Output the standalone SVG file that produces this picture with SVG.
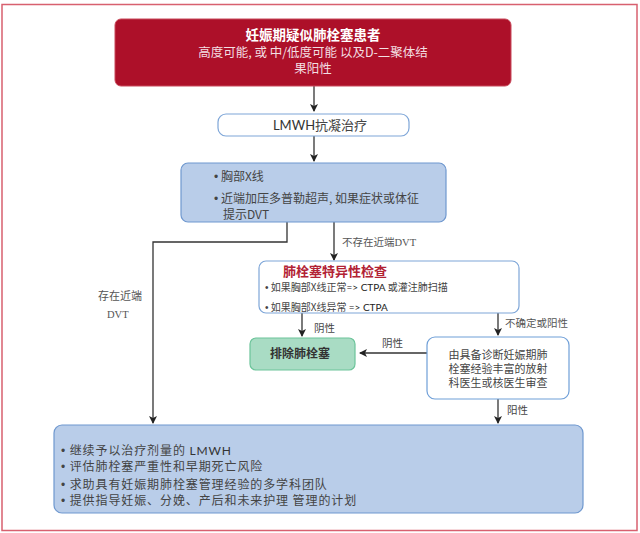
<svg xmlns="http://www.w3.org/2000/svg" width="640" height="533" viewBox="0 0 640 533">
<defs>
<marker id="ah" markerWidth="8" markerHeight="8" refX="7" refY="4" orient="auto" markerUnits="userSpaceOnUse">
<path d="M0,0 L8,4 L0,8 L2,4 Z" fill="#222"/>
</marker>
</defs>
<style>
.t{font-family:"Noto Sans CJK SC","Noto Sans",sans-serif;fill:#444}
.s{font-family:"Liberation Serif","Noto Sans CJK SC",serif;fill:#555}
.b{font-family:"Liberation Sans",sans-serif}
.c{stroke:#333;stroke-width:1.3;fill:none}
.lbl{font-size:10.5px}
.bt{font-size:12px;letter-spacing:0.9px}
</style>
<rect x="2" y="4.5" width="635" height="526" fill="#fff" stroke="#d8606f" stroke-width="1.5"/>
<g id="connectors">
<path class="c" d="M314,86 V111" marker-end="url(#ah)"/>
<path class="c" d="M314,136 V161" marker-end="url(#ah)"/>
<path class="c" d="M334,222 V260" marker-end="url(#ah)"/>
<path class="c" d="M287,222 V242 H153 V423" marker-end="url(#ah)"/>
<path class="c" d="M302,313 V336" marker-end="url(#ah)"/>
<path class="c" d="M498,313 V335" marker-end="url(#ah)"/>
<path class="c" d="M427,353 H360" stroke="#777" marker-end="url(#ah)"/>
<path class="c" d="M498,399 V423" marker-end="url(#ah)"/>
<text class="s lbl" x="342" y="246">不存在近端DVT</text>
<text class="s" x="98" y="300" font-size="11">存在近端</text>
<text class="s lbl" x="107" y="318">DVT</text>
<text class="t lbl" x="314" y="332" fill="#666">阴性</text>
<text class="t lbl" x="382" y="347" fill="#666">阴性</text>
<text class="s lbl" x="505" y="327">不确定或阳性</text>
<text class="t lbl" x="507" y="414" fill="#666">阳性</text>
</g>
<g id="start">
<rect x="115" y="19" width="396" height="67" rx="6" fill="#ad1029" stroke="#c8485a" stroke-width="1"/>
<text class="t" x="313" y="40" font-size="13.5" font-weight="bold" text-anchor="middle" style="fill:#fff">妊娠期疑似肺栓塞患者</text>
<text class="t" x="313" y="56.5" font-size="12.5" text-anchor="middle" style="fill:#f3dfe2">高度可能, 或 中/低度可能 以及D-二聚体结</text>
<text class="t" x="313" y="72.5" font-size="12.5" text-anchor="middle" style="fill:#f3dfe2">果阳性</text>
</g>
<g id="lmwh">
<rect x="218" y="114" width="191" height="22" rx="8" fill="#fff" stroke="#7ea6d8" stroke-width="1.2"/>
<text class="t" x="320" y="130" font-size="13" text-anchor="middle"><tspan font-family="Lato,sans-serif" style="fill:#333">LMWH</tspan>抗凝治疗</text>
</g>
<g id="tests">
<rect x="181" y="163" width="265" height="59" rx="7" fill="#b9cde9" stroke="#6f98cf" stroke-width="1.2"/>
<text class="t" x="214" y="181" font-size="12"><tspan class="b">•</tspan> 胸部X线</text>
<text class="t" x="214" y="203" font-size="12"><tspan class="b">•</tspan> 近端加压多普勒超声, 如果症状或体征</text>
<text class="t" x="223" y="219" font-size="12">提示DVT</text>
</g>
<g id="specific">
<rect x="259" y="261" width="260" height="52" rx="7" fill="#fff" stroke="#7ea6d8" stroke-width="1.2"/>
<text class="t" x="283" y="276" font-size="13" font-weight="bold" style="fill:#b22234">肺栓塞特异性检查</text>
<text class="t" x="265" y="291" font-size="10"><tspan class="b">•</tspan> 如果胸部X线正常<tspan font-family="Lato,sans-serif" style="fill:#222">=&gt; CTPA</tspan> 或灌注肺扫描</text>
<text class="t" x="265" y="311" font-size="10"><tspan class="b">•</tspan> 如果胸部X线异常 <tspan font-family="Lato,sans-serif" style="fill:#222">=&gt; CTPA</tspan></text>
</g>
<g id="excluded">
<rect x="250" y="338" width="105" height="32" rx="6" fill="#a9dcc4" stroke="#6cc49a" stroke-width="1.2"/>
<text class="t" x="300" y="358" font-size="12" font-weight="bold" text-anchor="middle" style="fill:#333">排除肺栓塞</text>
</g>
<g id="review">
<rect x="427" y="337" width="142" height="62" rx="8" fill="#fff" stroke="#6f9fd8" stroke-width="1.2"/>
<text class="t" x="498" y="359" font-size="11" text-anchor="middle">由具备诊断妊娠期肺</text>
<text class="t" x="498" y="373" font-size="11" text-anchor="middle">栓塞经验丰富的放射</text>
<text class="t" x="498" y="387" font-size="11" text-anchor="middle">科医生或核医生审查</text>
</g>
<g id="treatment">
<rect x="54" y="425" width="529" height="88" rx="8" fill="#b9cde9" stroke="#6f98cf" stroke-width="1.2"/>
<text class="t bt" x="61" y="455"><tspan class="b">•</tspan> 继续予以治疗剂量的 <tspan font-family="Lato,sans-serif" style="fill:#333">LMWH</tspan></text>
<text class="t bt" x="61" y="471"><tspan class="b">•</tspan> 评估肺栓塞严重性和早期死亡风险</text>
<text class="t bt" x="61" y="489"><tspan class="b">•</tspan> 求助具有妊娠期肺栓塞管理经验的多学科团队</text>
<text class="t bt" x="61" y="505"><tspan class="b">•</tspan> 提供指导妊娠、分娩、产后和未来护理 管理的计划</text>
</g>
</svg>
